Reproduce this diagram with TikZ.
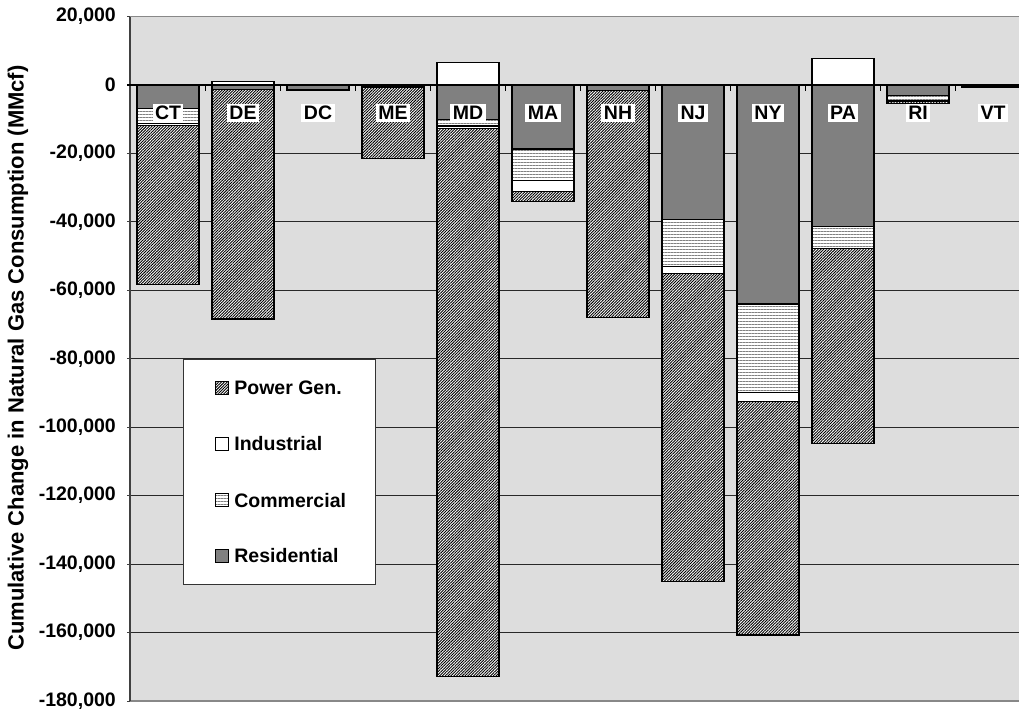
\documentclass[tikz,border=0pt]{standalone}
\usepackage{fontspec}
\setmainfont{Liberation Sans}
\usetikzlibrary{patterns.meta, positioning}
\definecolor{plotbg}{RGB}{221,221,221}
\definecolor{resgray}{RGB}{128,128,128}
\definecolor{gridcol}{RGB}{40,40,40}
\definecolor{framegray}{RGB}{136,136,136}

\begin{document}
\begin{tikzpicture}[x=1pt, y=3.422pt, font=\bfseries\fontsize{19.5}{21}\selectfont,
  resid/.style={draw=black, line width=1.2pt, fill=resgray},
  comm/.style={draw=black, line width=1.2pt, preaction={fill=white}, pattern={Lines[angle=0,distance=3pt,line width=0.8pt]}, pattern color=gray},
  indus/.style={draw=black, line width=1.2pt, fill=white},
  pgen/.style={draw=black, line width=1.2pt, preaction={fill=white}, pattern={Lines[angle=45,distance=2pt,line width=0.9pt]}, pattern color=black},
  grid/.style={gridcol, line width=0.9pt},
  state/.style={fill=white, inner sep=2.5pt},
  ylab/.style={anchor=east, inner sep=0pt},
  keybox/.style={minimum size=13pt, inner sep=0pt, line width=0.8pt}]
\useasboundingbox (0,-182.94) rectangle (1019,24.84);
\clip (0,-182.94) rectangle (1019,24.84);

% plot area
\fill[plotbg] (130,-180) rectangle (1019,20);
\draw[grid] (130,-160) -- (1019,-160);
\draw[grid] (130,-140) -- (1019,-140);
\draw[grid] (130,-120) -- (1019,-120);
\draw[grid] (130,-100) -- (1019,-100);
\draw[grid] (130,-80) -- (1019,-80);
\draw[grid] (130,-60) -- (1019,-60);
\draw[grid] (130,-40) -- (1019,-40);
\draw[grid] (130,-20) -- (1019,-20);
\draw[framegray, line width=1.5pt] (130,20) -- (1019,20);
\draw[framegray, line width=2pt] (130,-180) -- (1019,-180);
\draw[black!75, line width=1.5pt] (130,-180) -- (130,20);
\draw[black, line width=1.2pt] (127,0) -- (1019,0);

% category ticks
\draw[black, line width=0.8pt] (205,0) -- (205,-1.8) (280,0) -- (280,-1.8) (355,0) -- (355,-1.8)
  (430,0) -- (430,-1.8) (505,0) -- (505,-1.8) (580,0) -- (580,-1.8) (655,0) -- (655,-1.8)
  (730,0) -- (730,-1.8) (805,0) -- (805,-1.8) (880,0) -- (880,-1.8) (955,0) -- (955,-1.8);

% CT
\draw[resid] (137,0) rectangle (199,-6.8);
\draw[comm] (137,-6.8) rectangle (199,-11.2);
\draw[indus] (137,-11.2) rectangle (199,-11.9);
\draw[pgen] (137,-11.9) rectangle (199,-58.2);
% DE
\draw[indus] (212,0) rectangle (274,1.0);
\draw[resid] (212,0) rectangle (274,-1.4);
\draw[pgen] (212,-1.4) rectangle (274,-68.4);
% DC
\draw[resid] (287,0) rectangle (349,-1.3);
\draw[comm] (287,-1.3) rectangle (349,-1.7);
% ME
\draw[resid] (362,0) rectangle (424,-0.6);
\draw[pgen] (362,-0.6) rectangle (424,-21.5);
% MD
\draw[indus] (437,0) rectangle (499,6.5);
\draw[resid] (437,0) rectangle (499,-10.0);
\draw[comm] (437,-10.0) rectangle (499,-12.0);
\draw[indus] (437,-12.0) rectangle (499,-12.7);
\draw[pgen] (437,-12.7) rectangle (499,-172.9);
% MA
\draw[resid] (512,0) rectangle (574,-18.7);
\draw[comm] (512,-18.7) rectangle (574,-27.8);
\draw[indus] (512,-27.8) rectangle (574,-31.2);
\draw[pgen] (512,-31.2) rectangle (574,-34.1);
% NH
\draw[resid] (587,0) rectangle (649,-1.7);
\draw[pgen] (587,-1.7) rectangle (649,-68.0);
% NJ
\draw[resid] (662,0) rectangle (724,-39.4);
\draw[comm] (662,-39.4) rectangle (724,-53.1);
\draw[indus] (662,-53.1) rectangle (724,-55.0);
\draw[pgen] (662,-55.0) rectangle (724,-145.2);
% NY
\draw[resid] (737,0) rectangle (799,-64.0);
\draw[comm] (737,-64.0) rectangle (799,-89.9);
\draw[indus] (737,-89.9) rectangle (799,-92.5);
\draw[pgen] (737,-92.5) rectangle (799,-160.7);
% PA
\draw[indus] (812,0) rectangle (874,7.8);
\draw[resid] (812,0) rectangle (874,-41.4);
\draw[comm] (812,-41.4) rectangle (874,-47.8);
\draw[pgen] (812,-47.8) rectangle (874,-104.7);
% RI
\draw[resid] (887,0) rectangle (949,-3.0);
\draw[comm] (887,-3.0) rectangle (949,-4.7);
\draw[pgen] (887,-4.7) rectangle (949,-5.3);
% VT
\draw[resid, fill=black] (962,0) rectangle (1024,-0.8);

% state labels
\node[state] (ct) at (168,-8.2) {CT};
\node[state] (de) at (243,-8.2) {DE};
\node[state] (dc) at (318,-8.2) {DC};
\node[state] (me) at (393,-8.2) {ME};
\node[state] (md) at (468,-8.2) {MD};
\node[state] (ma) at (543,-8.2) {MA};
\node[state] (nh) at (618,-8.2) {NH};
\node[state] (nj) at (693,-8.2) {NJ};
\node[state] (ny) at (768,-8.2) {NY};
\node[state] (pa) at (843,-8.2) {PA};
\node[state] (ri) at (918,-8.2) {RI};
\node[state] (vt) at (993,-8.2) {VT};

% legend
\node[draw=black!80, fill=white, line width=0.8pt, minimum width=192pt, minimum height=225pt, inner sep=0pt] (legend) at (279,-113.0) {};
\node[keybox, pgen, line width=0.8pt] (kpgen) at (222.3,-88.5) {};
\node[keybox, indus, line width=0.8pt] (kind) at (222.3,-104.9) {};
\node[keybox, comm, line width=0.8pt] (kcomm) at (222.3,-121.3) {};
\node[keybox, resid, line width=0.8pt] (kres) at (222.3,-137.6) {};
\node[right=5pt of kpgen, inner sep=0pt] (tpgen) {Power Gen.};
\node[right=5pt of kind, inner sep=0pt] (tind) {Industrial};
\node[right=5pt of kcomm, inner sep=0pt] (tcomm) {Commercial};
\node[right=5pt of kres, inner sep=0pt] (tres) {Residential};

% value axis
\draw[black!75, line width=0.8pt] (127,20) -- (130,20) (127,-20) -- (130,-20) (127,-40) -- (130,-40)
  (127,-60) -- (130,-60) (127,-80) -- (130,-80) (127,-100) -- (130,-100) (127,-120) -- (130,-120)
  (127,-140) -- (130,-140) (127,-160) -- (130,-160) (127,-180) -- (130,-180);
\node[ylab] (y20) at (116,20) {20,000};
\node[ylab] (y0) at (116,0) {0};
\node[ylab] (ym20) at (116,-20) {-20,000};
\node[ylab] (ym40) at (116,-40) {-40,000};
\node[ylab] (ym60) at (116,-60) {-60,000};
\node[ylab] (ym80) at (116,-80) {-80,000};
\node[ylab] (ym100) at (116,-100) {-100,000};
\node[ylab] (ym120) at (116,-120) {-120,000};
\node[ylab] (ym140) at (116,-140) {-140,000};
\node[ylab] (ym160) at (116,-160) {-160,000};
\node[ylab] (ym180) at (116,-180) {-180,000};
\node[rotate=90, font=\bfseries\fontsize{22}{24}\selectfont] (ytitle) at (18,-79.8) {Cumulative Change in Natural Gas Consumption (MMcf)};
\end{tikzpicture}
\end{document}
